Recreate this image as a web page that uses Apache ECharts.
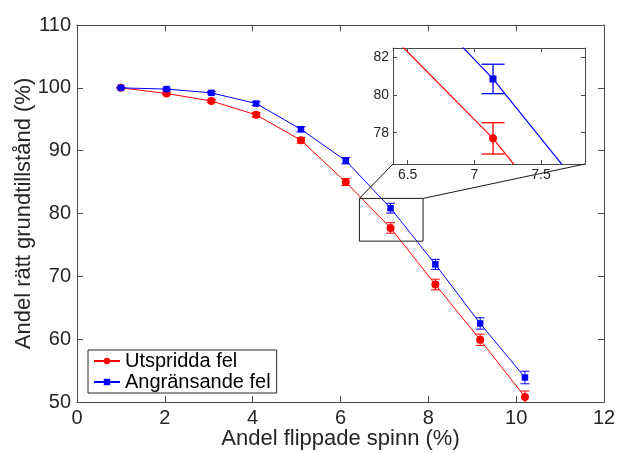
<!DOCTYPE html>
<html>
<head>
<meta charset="utf-8">
<script src="https://cdn.jsdelivr.net/npm/echarts@6/dist/echarts.min.js"></script>
<style>
html,body{margin:0;padding:0;background:#fff;}
#c{width:617px;height:453px;}
</style>
</head>
<body>
<div id="c"></div>
<script>
// ---------- data ----------
const xValues    = [1.00, 2.04, 3.06, 4.08, 5.10, 6.12, 7.14, 8.16, 9.18, 10.20];
const redValues  = [100.0, 99.1, 97.9, 95.7, 91.65, 85.0, 77.7, 68.7, 59.9, 50.8];
const redErrors  = [0.0, 0.2, 0.25, 0.35, 0.45, 0.55, 0.83, 0.85, 0.9, 0.95];
const blueValues = [100.0, 99.8, 99.2, 97.5, 93.4, 88.4, 80.85, 71.9, 62.5, 53.9];
const blueErrors = [0.0, 0.15, 0.2, 0.3, 0.4, 0.5, 0.78, 0.8, 0.9, 1.0];
const seriesNames = ['Utspridda fel', 'Angränsande fel'];
const xTicks = [0, 2, 4, 6, 8, 10, 12];
const yTicks = [50, 60, 70, 80, 90, 100, 110];
const insetXTicks = [6.5, 7, 7.5];
const insetYTicks = [78, 80, 82];
const insetXRange = [6.39, 7.83];
const insetYRange = [76.34, 82.49];
const zoomBoxX = [6.43, 7.88];
const zoomBoxY = [75.6, 82.4];
const xTitle = 'Andel flippade spinn (%)';
const yTitle = 'Andel rätt grundtillstånd (%)';

// ---------- helpers ----------
const FONT = '"Liberation Sans", Arial, Helvetica, sans-serif';
const RED = '#ff0000', BLUE = '#0000ff', AX = '#4a4a4a', TXT = '#262626';

const pts = (ys) => xValues.map((x, i) => [x, ys[i]]);
const errs = (ys, es) => xValues.map((x, i) => [x, ys[i] - es[i], ys[i] + es[i]]);

function errRender(capHalf, lw, color) {
  return function (params, api) {
    const x = api.value(0), lo = api.value(1), hi = api.value(2);
    const pLo = api.coord([x, lo]), pHi = api.coord([x, hi]);
    const style = { stroke: color, lineWidth: lw, fill: null };
    return {
      type: 'group',
      children: [
        { type: 'line', shape: { x1: pLo[0], y1: pLo[1], x2: pHi[0], y2: pHi[1] }, style: style },
        { type: 'line', shape: { x1: pLo[0] - capHalf, y1: pLo[1], x2: pLo[0] + capHalf, y2: pLo[1] }, style: style },
        { type: 'line', shape: { x1: pHi[0] - capHalf, y1: pHi[1], x2: pHi[0] + capHalf, y2: pHi[1] }, style: style }
      ]
    };
  };
}

function mkAxis(o) {
  return Object.assign({
    type: 'value',
    splitLine: { show: false },
    nameMoveOverlap: false,
    axisLine: { show: true, onZero: false, lineStyle: { color: AX, width: 1 } },
    axisTick: { show: true, inside: true, length: 6, lineStyle: { color: AX, width: 1 } },
    axisLabel: { show: false }
  }, o);
}

const chart = echarts.init(document.getElementById('c'), null, { renderer: 'canvas' });

const mainLabel = { show: true, fontSize: 20, color: TXT, fontFamily: FONT, margin: 6 };
const insetLabel = { show: true, fontSize: 14, color: TXT, fontFamily: FONT, margin: 4 };

const option = {
  animation: false,
  textStyle: { fontFamily: FONT },
  grid: [
    { left: 77, top: 25, right: 13, bottom: 51, containLabel: false, outerBoundsMode: 'none' },
    { left: 393, top: 48, width: 192, height: 116, show: true, backgroundColor: '#fff', borderWidth: 0,
      containLabel: false, outerBoundsMode: 'none' }
  ],
  xAxis: [
    mkAxis({ gridIndex: 0, position: 'bottom', min: xTicks[0], max: xTicks[xTicks.length - 1], interval: 2,
      axisLabel: mainLabel,
      name: xTitle, nameLocation: 'middle', nameGap: 26,
      nameTextStyle: { fontSize: 22, color: TXT, fontFamily: FONT } }),
    mkAxis({ gridIndex: 0, position: 'top', min: xTicks[0], max: xTicks[xTicks.length - 1], interval: 2 }),
    mkAxis({ gridIndex: 1, position: 'bottom', min: insetXRange[0], max: insetXRange[1],
      axisTick: { show: true, inside: true, length: 4, customValues: insetXTicks, lineStyle: { color: AX } },
      axisLabel: Object.assign({ customValues: insetXTicks }, insetLabel) }),
    mkAxis({ gridIndex: 1, position: 'top', min: insetXRange[0], max: insetXRange[1],
      axisTick: { show: true, inside: true, length: 4, customValues: insetXTicks, lineStyle: { color: AX } } })
  ],
  yAxis: [
    mkAxis({ gridIndex: 0, position: 'left', min: yTicks[0], max: yTicks[yTicks.length - 1], interval: 10,
      axisLabel: mainLabel,
      name: yTitle, nameLocation: 'middle', nameGap: 42,
      nameTextStyle: { fontSize: 22, color: TXT, fontFamily: FONT } }),
    mkAxis({ gridIndex: 0, position: 'right', min: yTicks[0], max: yTicks[yTicks.length - 1], interval: 10 }),
    mkAxis({ gridIndex: 1, position: 'left', min: insetYRange[0], max: insetYRange[1],
      axisTick: { show: true, inside: true, length: 4, customValues: insetYTicks, lineStyle: { color: AX } },
      axisLabel: Object.assign({ customValues: insetYTicks }, insetLabel) }),
    mkAxis({ gridIndex: 1, position: 'right', min: insetYRange[0], max: insetYRange[1],
      axisTick: { show: true, inside: true, length: 4, customValues: insetYTicks, lineStyle: { color: AX } } })
  ],
  legend: {
    data: seriesNames,
    orient: 'vertical',
    left: 88, top: 350,
    itemWidth: 26, itemHeight: 8, itemGap: 1,
    padding: [1, 6, 1, 5],
    borderColor: '#262626', borderWidth: 1, borderRadius: 0,
    backgroundColor: '#fff',
    selectedMode: false,
    textStyle: { fontSize: 20, color: '#000', fontFamily: FONT }
  },
  series: [
    { name: seriesNames[0], type: 'line', xAxisIndex: 0, yAxisIndex: 0, data: pts(redValues),
      symbol: 'circle', symbolSize: 8, itemStyle: { color: RED }, lineStyle: { color: RED, width: 1 }, z: 3 },
    { name: seriesNames[1], type: 'line', xAxisIndex: 0, yAxisIndex: 0, data: pts(blueValues),
      symbol: 'rect', symbolSize: 6.5, itemStyle: { color: BLUE }, lineStyle: { color: BLUE, width: 1 }, z: 4 },
    { name: seriesNames[0], type: 'custom', xAxisIndex: 0, yAxisIndex: 0, data: errs(redValues, redErrors),
      renderItem: errRender(4.5, 1, RED), clip: true, z: 3 },
    { name: seriesNames[1], type: 'custom', xAxisIndex: 0, yAxisIndex: 0, data: errs(blueValues, blueErrors),
      renderItem: errRender(4.5, 1, BLUE), clip: true, z: 4 },
    // inset
    { name: seriesNames[0], type: 'line', xAxisIndex: 2, yAxisIndex: 2, data: pts(redValues), clip: true,
      showSymbol: false, itemStyle: { color: RED }, lineStyle: { color: RED, width: 1.2 }, z: 3 },
    { name: seriesNames[1], type: 'line', xAxisIndex: 2, yAxisIndex: 2, data: pts(blueValues), clip: true,
      showSymbol: false, itemStyle: { color: BLUE }, lineStyle: { color: BLUE, width: 1.2 }, z: 4 },
    { name: seriesNames[0], type: 'custom', xAxisIndex: 2, yAxisIndex: 2, data: errs(redValues, redErrors),
      renderItem: errRender(11.5, 1.3, RED), clip: true, z: 5 },
    { name: seriesNames[1], type: 'custom', xAxisIndex: 2, yAxisIndex: 2, data: errs(blueValues, blueErrors),
      renderItem: errRender(11.5, 1.3, BLUE), clip: true, z: 5 },
    { name: seriesNames[0], type: 'scatter', xAxisIndex: 2, yAxisIndex: 2, data: pts(redValues), clip: true,
      symbol: 'circle', symbolSize: 8, itemStyle: { color: RED, opacity: 1 }, z: 6 },
    { name: seriesNames[1], type: 'scatter', xAxisIndex: 2, yAxisIndex: 2, data: pts(blueValues), clip: true,
      symbol: 'rect', symbolSize: 7, itemStyle: { color: BLUE, opacity: 1 }, z: 6 }
  ]
};

chart.setOption(option);

// zoom box and connector lines computed through the axes
const bTL = chart.convertToPixel({ gridIndex: 0 }, [zoomBoxX[0], zoomBoxY[1]]);
const bBR = chart.convertToPixel({ gridIndex: 0 }, [zoomBoxX[1], zoomBoxY[0]]);
const iBL = chart.convertToPixel({ gridIndex: 1 }, [insetXRange[0], insetYRange[0]]);
const iBR = chart.convertToPixel({ gridIndex: 1 }, [insetXRange[1], insetYRange[0]]);
const gStyle = { stroke: '#1a1a1a', lineWidth: 1, fill: null };
chart.setOption({
  graphic: [
    { type: 'rect', z: 50, shape: { x: bTL[0], y: bTL[1], width: bBR[0] - bTL[0], height: bBR[1] - bTL[1] }, style: gStyle },
    { type: 'line', z: 50, shape: { x1: bTL[0], y1: bTL[1], x2: iBL[0], y2: iBL[1] }, style: gStyle },
    { type: 'line', z: 50, shape: { x1: bBR[0], y1: bTL[1], x2: iBR[0], y2: iBR[1] }, style: gStyle }
  ]
});
</script>
</body>
</html>
